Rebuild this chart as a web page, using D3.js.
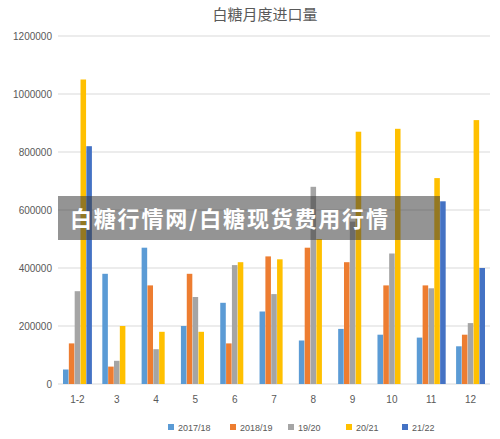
<!DOCTYPE html>
<html><head><meta charset="utf-8">
<script src="https://cdn.jsdelivr.net/npm/d3@7"></script>
<style>body{margin:0;background:#fff}</style></head>
<body><svg id="c" width="500" height="439"></svg>
<script>
const categories=["1-2","3","4","5","6","7","8","9","10","11","12"];
const seriesNames=["2017/18","2018/19","19/20","20/21","21/22"];
const s2017=[50000,380000,470000,200000,280000,250000,150000,190000,170000,160000,130000];
const s2018=[140000,60000,340000,380000,140000,440000,470000,420000,340000,340000,170000];
const s1920=[320000,80000,120000,300000,410000,310000,680000,560000,450000,330000,210000];
const s2021=[1050000,200000,180000,180000,420000,430000,500000,870000,880000,710000,910000];
const s2122=[820000,0,0,0,0,0,0,0,0,630000,400000];
const yTicks=[0,200000,400000,600000,800000,1000000,1200000];
const colors=["#5B9BD5","#ED7D31","#A5A5A5","#FFC000","#4472C4"];
const series=[s2017,s2018,s1920,s2021,s2122];
const svg=d3.select("#c");
const m={l:58,r:490,t:36,b:384};
const x=d3.scaleBand().domain(categories).range([m.l,m.r]).paddingInner(0.25).paddingOuter(0.12);
const xs=d3.scaleBand().domain(d3.range(5)).range([0,x.bandwidth()]).padding(0.05);
const y=d3.scaleLinear().domain([0,1200000]).range([m.b,m.t]);
svg.append("g").selectAll("line").data(yTicks).join("line")
 .attr("x1",m.l).attr("x2",m.r).attr("y1",d=>y(d)).attr("y2",d=>y(d)).attr("stroke","#d9d9d9");
svg.append("g").selectAll("text").data(yTicks).join("text")
 .attr("x",52).attr("y",d=>y(d)+4).attr("text-anchor","end").attr("font-size",10)
 .attr("font-family","Liberation Sans, sans-serif").attr("fill","#595959").text(d=>d);
series.forEach((s,i)=>{
 svg.append("g").selectAll("rect").data(s).join("rect")
  .attr("x",(d,j)=>x(categories[j])+xs(i)).attr("width",xs.bandwidth())
  .attr("y",d=>y(d)).attr("height",d=>y(0)-y(d)).attr("fill",colors[i]);
});
svg.append("g").selectAll("text").data(categories).join("text")
 .attr("x",d=>x(d)+x.bandwidth()/2).attr("y",403).attr("text-anchor","middle")
 .attr("font-size",10).attr("font-family","Liberation Sans, sans-serif").attr("fill","#595959").text(d=>d);
svg.append("text").attr("x",265).attr("y",20).attr("text-anchor","middle").attr("font-size",15)
 .attr("font-family","Noto Sans CJK SC").attr("fill","#595959").text("白糖月度进口量");
const lg=svg.append("g");
const lx=[168,230,288,346,402];
seriesNames.forEach((n,i)=>{
 lg.append("rect").attr("x",lx[i]).attr("y",424).attr("width",6).attr("height",6).attr("fill",colors[i]);
 lg.append("text").attr("x",lx[i]+10).attr("y",431).attr("font-size",9)
  .attr("font-family","Liberation Sans, sans-serif").attr("fill","#595959").text(n);
});
svg.append("rect").attr("x",58).attr("y",196).attr("width",382).attr("height",44).attr("fill","rgba(60,60,60,0.55)");
svg.append("text").attr("x",70).attr("y",227).attr("font-size",22).attr("letter-spacing",1.8).attr("font-weight","bold")
 .attr("font-family","Noto Sans CJK SC").attr("fill","#fff").text("白糖行情网/白糖现货费用行情");
</script></body></html>
